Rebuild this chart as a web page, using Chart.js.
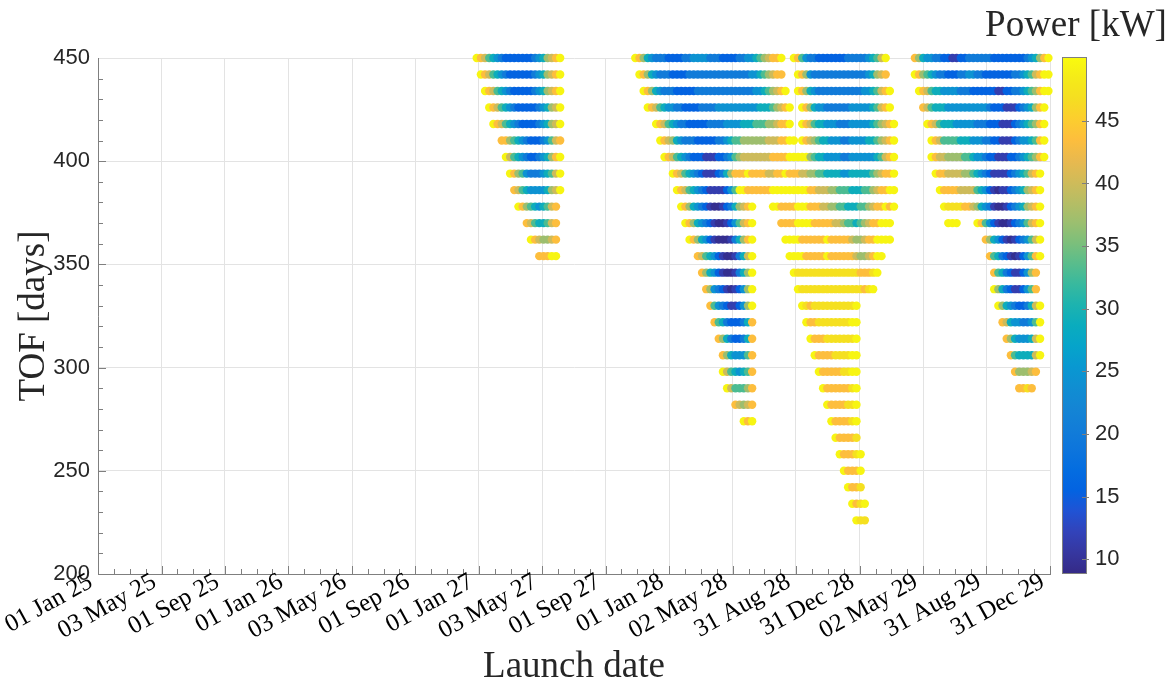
<!DOCTYPE html>
<html>
<head>
<meta charset="utf-8">
<title>Launch date vs TOF</title>
<script src="https://cdn.jsdelivr.net/npm/chart.js@4.4.1/dist/chart.umd.min.js"></script>
<style>
  html, body { margin: 0; padding: 0; background: #fff; }
  #wrap { width: 1172px; height: 687px; }
</style>
</head>
<body>
<div id="wrap"><canvas id="porkchop" width="1172" height="687"></canvas></div>
<script>
// launch dates are days since 01 Jan 2025
const tickDays = [0, 122, 243, 365, 487, 608, 730, 852, 973, 1095, 1217, 1338, 1460, 1582, 1703, 1825];
const tickLabels = ['01 Jan 25', '03 May 25', '01 Sep 25', '01 Jan 26', '03 May 26', '01 Sep 26',
  '01 Jan 27', '03 May 27', '01 Sep 27', '01 Jan 28', '02 May 28', '31 Aug 28',
  '31 Dec 28', '02 May 29', '31 Aug 29', '31 Dec 29'];
const tofTicks = [200, 250, 300, 350, 400, 450];
const powerTicks = [10, 15, 20, 25, 30, 35, 40, 45];
const powerRange = [8.9, 50.1];
const launchStep = 8;

// power [kW] for each letter used in the rows below
const powerCodes = { '0': 9.5, '1': 11.5, '2': 15.5, '3': 20, '4': 24.5, '5': 29, '6': 33,
  '7': 37, '8': 40, '9': 43.5, 'G': 47, 'Y': 49.5 };

// rows: [TOF, first launch day, one power letter per launch date]
const window2027 = [
  [450, 726, 'Y9865432222222345789Y'],
  [442, 734, 'Y986543222222345789Y'],
  [434, 742, 'Y98654322222345789Y'],
  [426, 750, 'Y9865432222234578Y'],
  [418, 758, 'Y986543222234578Y'],
  [410, 774, '997654322234689'],
  [402, 782, 'Y865432234579Y'],
  [394, 790, 'Y97643334568Y'],
  [386, 798, '98654444578Y'],
  [378, 806, 'Y976545689'],
  [370, 822, '98655689'],
  [362, 830, 'Y987789'],
  [354, 846, '999YY']
];

const window2028 = [
  [450, 1030, 'Y9754333222233444433322223344567899Y'],
  [442, 1038, 'Y9754333222233333333333333344567899'],
  [434, 1046, 'Y975433322222333333333333334456789Y'],
  [426, 1054, 'Y986544332222333344444444445556789Y'],
  [418, 1070, 'Y9865433222223333444455566677899Y'],
  [410, 1078, 'Y987543332222233456677777788899YY'],
  [402, 1086, 'Y98654322211122346788888889999YYYYY76554444334444445689Y'],
  [394, 1102, 'Y98654321112357999Y99998899Y9998877665555445555567899Y'],
  [386, 1110, 'Y98654321111246YY999999YYYYYYYYY9988877666555667899YY'],
  [378, 1118, 'Y9754321001235789Y'],
  [370, 1126, 'Y975432100124689Y'],
  [362, 1134, 'Y97542100013579Y'],
  [354, 1150, '9865421001358Y'],
  [346, 1158, '975421001357Y'],
  [338, 1166, '97432101247Y'],
  [330, 1174, '9643211247Y'],
  [322, 1182, '9653222359'],
  [314, 1190, '975322359'],
  [306, 1198, '97544469'],
  [298, 1198, 'Y8654569'],
  [290, 1206, 'Y866679'],
  [282, 1222, '98789'],
  [274, 1238, 'Y9Y']
];

const window2028Late = [
  [450, 1334, 'Y964332222222333334568Y'],
  [442, 1342, 'Y974333333333333345789'],
  [434, 1342, 'Y975433333333333445689Y'],
  [426, 1350, 'Y97544333333444445689Y'],
  [418, 1350, 'Y986554443334444456789Y'],
  [410, 1350, 'Y987655444334444556789Y'],
  [378, 1294, 'YY9999YYY999887766555667899Y9Y'],
  [370, 1310, '9999YYYY9999988766567899YYY'],
  [362, 1318, 'YYYY999999Y99999877899YYYY'],
  [354, 1326, 'YYYY99999Y99999987789YY'],
  [346, 1334, 'YGGGGGGGGGGGGGGG999GY'],
  [338, 1342, 'YGGGGGGGGGGGGGGG9GY'],
  [330, 1350, 'YG9GGGGGGGGGGY'],
  [322, 1358, 'Y99GGGGGGGGYY'],
  [314, 1366, 'Y999GGGGGGGY'],
  [306, 1374, 'Y9999GGGGYY'],
  [298, 1382, 'Y99999GGYY'],
  [290, 1390, 'Y999999GY'],
  [282, 1398, 'Y9999GGY'],
  [274, 1406, 'Y9999GY'],
  [266, 1414, 'Y9999G'],
  [258, 1422, 'Y999GY'],
  [250, 1430, 'Y999Y'],
  [242, 1438, 'Y99G'],
  [234, 1446, 'Y9GY'],
  [226, 1454, 'YGG']
];

const window2029 = [
  [450, 1566, '97544332211223333332222222234579Y'],
  [442, 1566, 'Y976543322233443322222223345689YY'],
  [434, 1574, 'Y98655444433322222211223345679YY'],
  [426, 1582, '98655544444444443222111234579Y'],
  [418, 1590, 'Y986555444443332221112345679Y'],
  [410, 1598, 'Y98666655544433221112344569Y'],
  [402, 1598, 'Y98877776654432211122345679Y'],
  [394, 1606, 'Y998888776543211112345689Y'],
  [386, 1614, 'Y99998888654210112345789Y'],
  [378, 1622, 'YGGGG998754310012345789Y'],
  [370, 1630, 'YYY'],
  [370, 1686, 'Y96421001234689Y'],
  [362, 1702, '9754210123468Y'],
  [354, 1710, '965321012469Y'],
  [346, 1718, '96532112479'],
  [338, 1718, 'Y7532112469'],
  [330, 1726, 'Y754322358Y'],
  [322, 1734, '985443346Y'],
  [314, 1742, '97544458Y'],
  [306, 1750, '9655558Y'],
  [298, 1758, '977789'],
  [290, 1766, '99G9']
];

// parula colour table (sampled)
const parulaMap = [
  [0.2081, 0.1663, 0.5292], [0.2123, 0.2138, 0.6270], [0.1959, 0.2645, 0.7279],
  [0.1253, 0.3242, 0.8303], [0.0117, 0.3875, 0.8820], [0.0165, 0.4266, 0.8786],
  [0.0498, 0.4586, 0.8641], [0.0723, 0.4887, 0.8467], [0.0793, 0.5200, 0.8312],
  [0.0641, 0.5570, 0.8240], [0.0343, 0.5966, 0.8199], [0.0231, 0.6418, 0.7913],
  [0.0384, 0.6743, 0.7436], [0.1133, 0.7015, 0.6859], [0.2178, 0.7250, 0.6193],
  [0.3482, 0.7424, 0.5473], [0.4871, 0.7491, 0.4840], [0.6099, 0.7473, 0.4337],
  [0.7184, 0.7411, 0.3905], [0.8185, 0.7327, 0.3498], [0.9139, 0.7258, 0.3063],
  [0.9938, 0.7455, 0.2403], [0.9880, 0.8066, 0.1794], [0.9626, 0.8705, 0.1309],
  [0.9598, 0.9218, 0.0948], [0.9763, 0.9831, 0.0538]
];

function parula(v) {
  let t = (v - powerRange[0]) / (powerRange[1] - powerRange[0]);
  t = Math.min(1, Math.max(0, t)) * (parulaMap.length - 1);
  const i = Math.min(Math.floor(t), parulaMap.length - 2);
  const f = t - i;
  const c = parulaMap[i].map((a, k) => Math.round(255 * (a + (parulaMap[i + 1][k] - a) * f)));
  return 'rgb(' + c[0] + ',' + c[1] + ',' + c[2] + ')';
}

const points = [];
[window2027, window2028, window2028Late, window2029].forEach(rows => {
  rows.forEach(([tof, start, codes]) => {
    for (let i = 0; i < codes.length; i++) {
      points.push({ x: start + i * launchStep, y: tof, p: powerCodes[codes[i]] });
    }
  });
});

const axisGray = '#7f7f7f';
const textDark = '#262626';

// ticks, rotated date labels, titles and the colour bar
const decorations = {
  id: 'decorations',
  afterDraw(chart) {
    const { ctx, chartArea: a, scales: { x, y } } = chart;
    ctx.save();
    ctx.strokeStyle = axisGray;
    ctx.lineWidth = 1;
    ctx.beginPath();
    for (let i = 0; i < tickDays.length - 1; i++) {
      for (let k = 1; k < 4; k++) {
        const px = Math.round(x.getPixelForValue(tickDays[i] + (tickDays[i + 1] - tickDays[i]) * k / 4)) + 0.5;
        ctx.moveTo(px, a.bottom);
        ctx.lineTo(px, a.bottom - 5);
      }
    }
    tickDays.forEach(v => {
      const px = Math.round(x.getPixelForValue(v)) + 0.5;
      ctx.moveTo(px, a.bottom);
      ctx.lineTo(px, a.bottom - 8);
    });
    for (let v = 210; v < 450; v += 10) {
      const py = Math.round(y.getPixelForValue(v)) + 0.5;
      ctx.moveTo(a.left, py);
      ctx.lineTo(a.left + (v % 50 ? 5 : 8), py);
    }
    ctx.stroke();

    // date labels
    ctx.fillStyle = '#000';
    ctx.font = '25px "Liberation Serif"';
    ctx.textAlign = 'right';
    ctx.textBaseline = 'alphabetic';
    tickDays.forEach((v, i) => {
      ctx.save();
      ctx.translate(x.getPixelForValue(v) - 4, a.bottom + 12);
      ctx.rotate(-29 * Math.PI / 180);
      ctx.fillText(tickLabels[i], 0, 0);
      ctx.restore();
    });

    // axis titles
    ctx.font = '37px "Liberation Serif"';
    ctx.textAlign = 'center';
    ctx.textBaseline = 'alphabetic';
    ctx.fillStyle = textDark;
    ctx.fillText('Launch date', (a.left + a.right) / 2, 677);
    ctx.save();
    ctx.translate(44, 316);
    ctx.rotate(-Math.PI / 2);
    ctx.fillText('TOF [days]', 0, 0);
    ctx.restore();

    // colour bar
    const cb = { left: 1062, right: 1086, top: 57, bottom: 573 };
    const grad = ctx.createLinearGradient(0, cb.bottom, 0, cb.top);
    parulaMap.forEach((c, i) => {
      grad.addColorStop(i / (parulaMap.length - 1),
        'rgb(' + Math.round(c[0] * 255) + ',' + Math.round(c[1] * 255) + ',' + Math.round(c[2] * 255) + ')');
    });
    ctx.fillStyle = grad;
    ctx.fillRect(cb.left, cb.top, cb.right - cb.left, cb.bottom - cb.top);
    ctx.strokeStyle = axisGray;
    ctx.strokeRect(cb.left + 0.5, cb.top + 0.5, cb.right - cb.left, cb.bottom - cb.top);
    ctx.font = '22px "Liberation Sans"';
    ctx.textAlign = 'left';
    ctx.textBaseline = 'middle';
    ctx.fillStyle = textDark;
    ctx.beginPath();
    powerTicks.forEach(v => {
      const py = cb.bottom - (v - powerRange[0]) / (powerRange[1] - powerRange[0]) * (cb.bottom - cb.top);
      const ry = Math.round(py) + 0.5;
      ctx.moveTo(cb.right - 4, ry);
      ctx.lineTo(cb.right + 3, ry);
      ctx.fillText(String(v), cb.right + 9, py);
    });
    ctx.stroke();

    ctx.font = '37px "Liberation Serif"';
    ctx.textAlign = 'center';
    ctx.textBaseline = 'alphabetic';
    ctx.fillText('Power [kW]', 1076, 36);
    ctx.restore();
  }
};

new Chart(document.getElementById('porkchop'), {
  type: 'scatter',
  data: {
    datasets: [{
      data: points,
      pointRadius: 4.2,
      pointHoverRadius: 4.2,
      borderWidth: 0,
      backgroundColor: ctx => parula(ctx.raw ? ctx.raw.p : powerRange[0]),
      clip: false
    }]
  },
  options: {
    responsive: false,
    animation: false,
    devicePixelRatio: 1,
    events: [],
    layout: { padding: { left: 0, top: 58, right: 122, bottom: 0 } },
    plugins: {
      legend: { display: false },
      tooltip: { enabled: false }
    },
    scales: {
      x: {
        type: 'linear',
        min: 0,
        max: 1825,
        afterBuildTicks: scale => { scale.ticks = tickDays.map(v => ({ value: v })); },
        afterFit: scale => { scale.height = 113; },
        ticks: { display: false },
        grid: { color: '#e3e3e3', drawTicks: false },
        border: { color: axisGray }
      },
      y: {
        min: 200,
        max: 450,
        afterBuildTicks: scale => { scale.ticks = tofTicks.map(v => ({ value: v })); },
        afterFit: scale => { scale.width = 98; },
        ticks: {
          font: { family: 'Liberation Sans', size: 22 },
          color: textDark,
          padding: 8
        },
        grid: { color: '#e3e3e3', drawTicks: false },
        border: { color: axisGray }
      }
    }
  },
  plugins: [decorations]
});
</script>
</body>
</html>
